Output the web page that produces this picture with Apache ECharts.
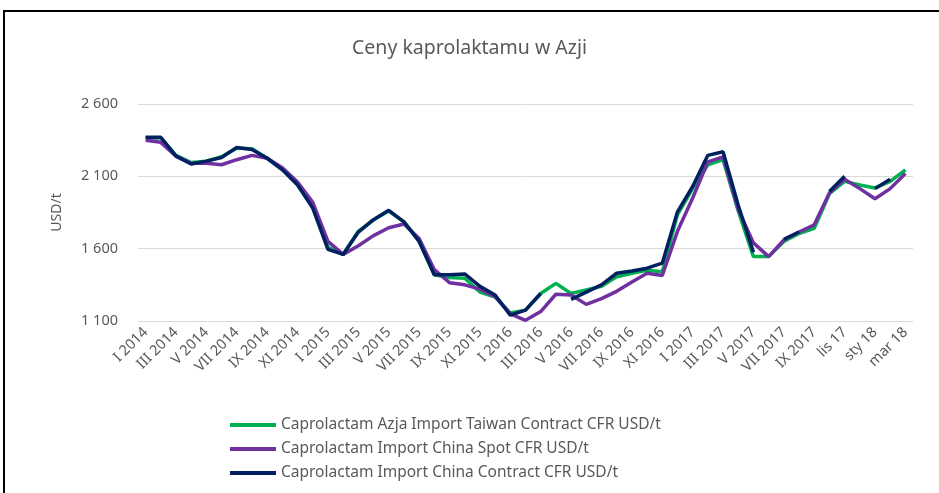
<!DOCTYPE html>
<html>
<head>
<meta charset="utf-8">
<title>Ceny kaprolaktamu w Azji</title>
<script src="https://cdn.jsdelivr.net/npm/echarts@6/dist/echarts.min.js"></script>
<style>
    html, body { margin: 0; padding: 0; background: #fff; }
    #chart { width: 939px; height: 493px; }
</style>
</head>
<body>
<div id="chart"></div>
<script>
// miesiace I 2014 .. III 2018
var months = [
    "I 2014","II 2014","III 2014","IV 2014","V 2014","VI 2014","VII 2014","VIII 2014","IX 2014","X 2014","XI 2014","XII 2014",
    "I 2015","II 2015","III 2015","IV 2015","V 2015","VI 2015","VII 2015","VIII 2015","IX 2015","X 2015","XI 2015","XII 2015",
    "I 2016","II 2016","III 2016","IV 2016","V 2016","VI 2016","VII 2016","VIII 2016","IX 2016","X 2016","XI 2016","XII 2016",
    "I 2017","II 2017","III 2017","IV 2017","V 2017","VI 2017","VII 2017","VIII 2017","IX 2017","X 2017","lis 17","gru 17",
    "sty 18","lut 18","mar 18"
];

var taiwanContract = [
    2365,2365,2245,2195,2205,2235,2295,2290,2225,2150,2045,1900,
    1610,1560,1720,1800,1860,1785,1655,1420,1400,1395,1300,1265,
    1155,1175,1290,1360,1290,1315,1340,1405,1430,1450,1440,1835,
    2015,2180,2215,1860,1545,1545,1650,1705,1740,1980,2065,2040,
    2020,2065,2145
];

var chinaSpot = [
    2350,2335,2240,2190,2190,2180,2215,2245,2225,2160,2060,1920,
    1650,1560,1620,1690,1745,1770,1670,1455,1365,1350,1320,1268,
    1150,1105,1165,1285,1280,1215,1255,1305,1370,1430,1415,1720,
    1950,2200,2235,1870,1640,1545,1660,1715,1765,1985,2080,2015,
    1945,2015,2120
];

var chinaContract = [
    2370,2370,2240,2185,2205,2230,2300,2285,2225,2145,2040,1880,
    1595,1560,1715,1800,1865,1785,1650,1420,1420,1425,1340,1280,
    1140,1175,1290,null,1250,1300,1350,1430,1445,1465,1500,1855,
    2030,2245,2270,1900,1575,null,1665,1715,null,1995,2100,null,
    2015,2080,null
];

var seriesNames = [
    "Caprolactam Azja Import Taiwan Contract CFR USD/t",
    "Caprolactam Import China Spot CFR USD/t",
    "Caprolactam Import China Contract CFR USD/t"
];
var seriesColors = ["#00B050", "#7030A0", "#002060"];

var textColor = "#595959";

function spaced(v) {
    return String(v).replace(/\B(?=(\d{3})+(?!\d))/g, " ");
}

var myChart = echarts.init(document.getElementById("chart"));
var option = {
    animation: false,
    title: {
        text: "Ceny kaprolaktamu w Azji",
        left: "center",
        top: 33,
        textStyle: {
            fontFamily: "Noto Sans",
            fontSize: 19.5,
            fontWeight: "normal",
            color: textColor
        }
    },
    graphic: [{
        type: "rect",
        shape: { x: 4, y: 11, width: 960, height: 520 },
        style: { fill: "none", stroke: "#000", lineWidth: 2 },
        silent: true
    }],
    legend: {
        orient: "vertical",
        left: 225,
        top: 412,
        itemWidth: 46,
        itemHeight: 4,
        itemGap: 8,
        icon: "rect",
        data: seriesNames,
        textStyle: {
            fontFamily: "Noto Sans",
            fontSize: 15.5,
            color: textColor
        }
    },
    grid: {
        left: 138,
        right: 26,
        top: 104,
        bottom: 172
    },
    xAxis: {
        type: "category",
        data: months,
        boundaryGap: true,
        axisLine: { show: false },
        axisTick: { show: false },
        axisLabel: {
            interval: 1,
            rotate: 45,
            margin: 9,
            fontFamily: "Noto Sans",
            fontSize: 14.5,
            color: textColor
        }
    },
    yAxis: {
        type: "value",
        min: 1100,
        max: 2600,
        interval: 500,
        name: "USD/t",
        nameLocation: "middle",
        nameGap: 74,
        nameTextStyle: {
            fontFamily: "Noto Sans",
            fontSize: 14,
            color: textColor
        },
        axisLine: { show: false },
        axisTick: { show: false },
        axisLabel: {
            margin: 20,
            fontFamily: "Noto Sans",
            fontSize: 14.5,
            color: textColor,
            formatter: spaced
        },
        splitLine: { lineStyle: { color: "#d9d9d9", width: 1 } }
    },
    series: function () {
        var data = [taiwanContract, chinaSpot, chinaContract];
        var series = [];
        for (var i = 0; i < data.length; i++) {
            series.push({
                name: seriesNames[i],
                type: "line",
                data: data[i],
                symbol: "none",
                connectNulls: false,
                color: seriesColors[i],
                lineStyle: { width: 3.5, color: seriesColors[i] }
            });
        }
        return series;
    }()
};
myChart.setOption(option);
</script>
</body>
</html>
